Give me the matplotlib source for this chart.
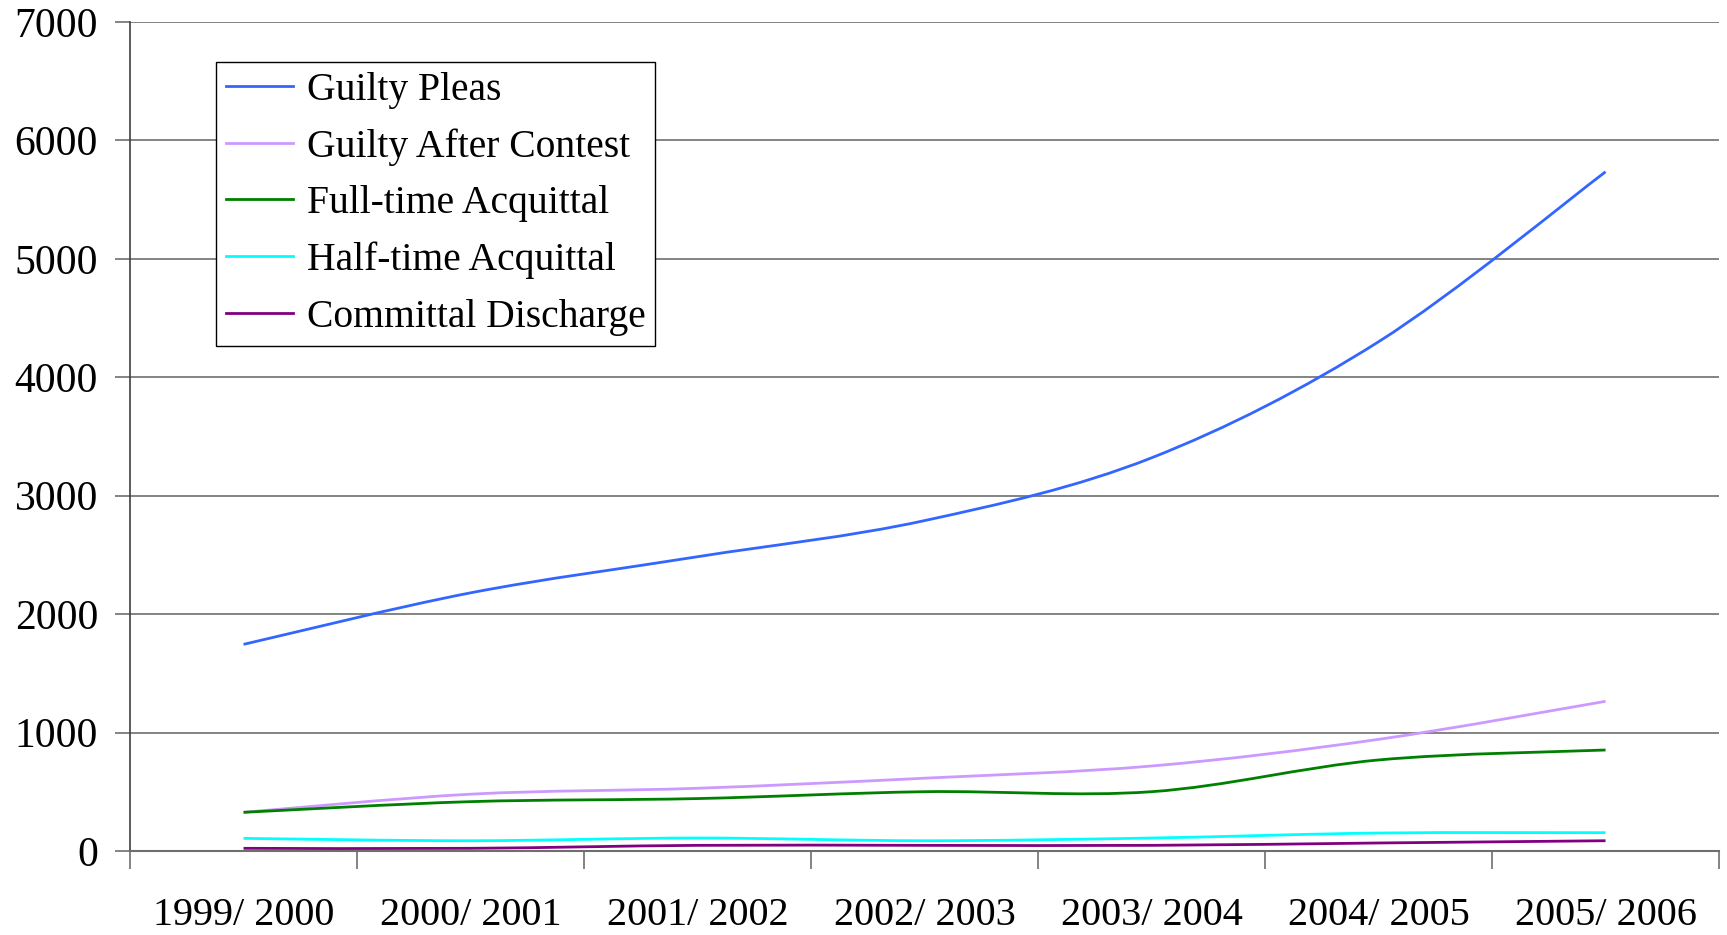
import matplotlib
matplotlib.use("Agg")
import matplotlib.pyplot as plt
from matplotlib.lines import Line2D
from matplotlib.patches import PathPatch
from matplotlib.path import Path

years = ["1999/ 2000", "2000/ 2001", "2001/ 2002", "2002/ 2003",
         "2003/ 2004", "2004/ 2005", "2005/ 2006"]

guilty_pleas = [1745, 2180, 2485, 2790, 3320, 4300, 5735]
guilty_after_contest = [327, 480, 530, 615, 718, 943, 1264]
full_time_acquittal = [327, 417, 443, 501, 501, 769, 853]
half_time_acquittal = [107, 87, 110, 87, 110, 152, 155]
committal_discharge = [23, 23, 48, 48, 48, 68, 87]

series = [
    ("Guilty Pleas", guilty_pleas, "#3366ff"),
    ("Guilty After Contest", guilty_after_contest, "#cc99ff"),
    ("Full-time Acquittal", full_time_acquittal, "#008000"),
    ("Half-time Acquittal", half_time_acquittal, "#00ffff"),
    ("Committal Discharge", committal_discharge, "#800080"),
]


def smooth_path(xs, ys):
    # Bezier segments through every data point (like a smoothed line chart)
    verts = [(xs[0], ys[0])]
    codes = [Path.MOVETO]
    n = len(xs)
    for i in range(n - 1):
        a = max(i - 1, 0)
        b = min(i + 2, n - 1)
        c1 = (xs[i] + (xs[i + 1] - xs[a]) / 6, ys[i] + (ys[i + 1] - ys[a]) / 6)
        c2 = (xs[i + 1] - (xs[b] - xs[i]) / 6, ys[i + 1] - (ys[b] - ys[i]) / 6)
        verts += [c1, c2, (xs[i + 1], ys[i + 1])]
        codes += [Path.CURVE4] * 3
    return Path(verts, codes)


plt.rcParams["font.family"] = ["Liberation Serif", "DejaVu Serif"]

fig = plt.figure(figsize=(17.27, 9.35), dpi=100)
ax = fig.add_axes([0.0753, 0.0898, 0.9201, 0.8867])

xs = list(range(len(years)))
handles = []
for name, values, color in series:
    patch = PathPatch(smooth_path(xs, values), facecolor="none",
                      edgecolor=color, lw=2.0, zorder=3, capstyle="butt")
    ax.add_patch(patch)
    handles.append(Line2D([], [], color=color, lw=2.0, label=name))

ax.set_xlim(-0.5, len(years) - 0.5)
ax.set_ylim(0, 7000)

ax.set_yticks(range(0, 7001, 1000))
ax.set_yticklabels([str(v) for v in range(0, 7001, 1000)])
ax.yaxis.grid(True, color="#6e6e6e", lw=1.2, zorder=0)
ax.set_axisbelow(True)

ax.set_xticks(xs)
ax.set_xticklabels(years)
ax.set_xticks([i - 0.5 for i in range(len(years) + 1)], minor=True)
ax.tick_params(axis="x", which="major", length=0, pad=33, labelsize=29)
ax.tick_params(axis="x", which="minor", length=13, width=1.2, color="#6e6e6e")
ax.tick_params(axis="y", length=11, width=1.2, color="#6e6e6e", pad=12,
               labelsize=30)

for side in ("top", "right"):
    ax.spines[side].set_visible(False)
ax.spines["left"].set_color("#404040")
ax.spines["bottom"].set_color("#6e6e6e")
ax.spines["left"].set_linewidth(1.2)
ax.spines["bottom"].set_linewidth(1.5)

leg = ax.legend(handles=handles, loc="upper left",
                bbox_to_anchor=(216 / 1727, 1 - 62 / 935),
                bbox_transform=fig.transFigure, fontsize=28.5,
                frameon=True, fancybox=False, framealpha=1,
                edgecolor="black", handlelength=1.69, handletextpad=0.35,
                labelspacing=0.49, borderpad=0.25, borderaxespad=0)
leg.get_frame().set_linewidth(1.0)

fig.savefig("out.png", dpi=100)
